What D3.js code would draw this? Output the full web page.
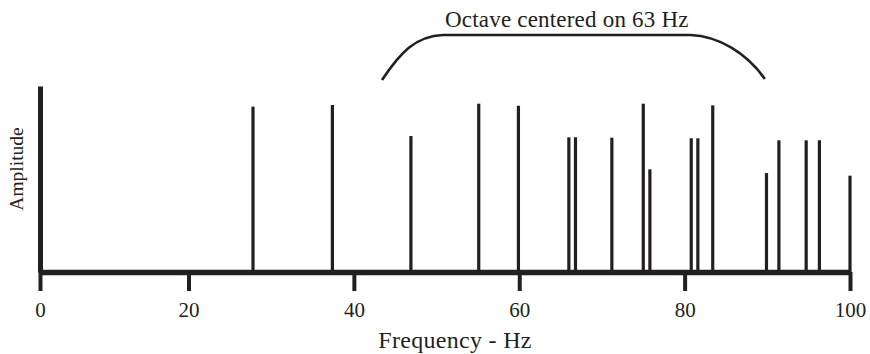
<!DOCTYPE html>
<html lang="en">
<head>
<meta charset="UTF-8"/>
<title>Octave centered on 63 Hz</title>
<script src="https://d3js.org/d3.v7.min.js"></script>
<style>
  body { margin: 0; background: #fff; }
  text { font-family: "Liberation Serif", "Times New Roman", serif; fill: #231f20; }
</style>
</head>
<body>
<script>
// spectral lines: frequency (Hz) and relative amplitude
var freqs = [27.8, 37.4, 46.9, 55.1, 59.9, 66.0, 66.8, 71.2, 75.0, 75.8,
             80.8, 81.6, 83.4, 89.9, 91.4, 94.7, 96.3, 100];
var amps  = [0.889, 0.898, 0.731, 0.905, 0.894, 0.724, 0.724, 0.722, 0.905, 0.552,
             0.719, 0.719, 0.896, 0.532, 0.708, 0.708, 0.708, 0.518];
var xTicks = [0, 20, 40, 60, 80, 100];
var octave = [43.4, 50.8, 80.7, 89.7];   // bracket ends and flat part, Hz

var w = 870, h = 354;
var ink = "#231f20";
var base = 272;

// the printed axis is a bit stretched between 0 and 20
var xScale = d3.scaleLinear()
    .domain([0, 20, 100])
    .range([40, 188.5, 850]);

var yScale = d3.scaleLinear()
    .domain([0, 1])
    .range([base, 86]);

var svg = d3.select("body").append("svg")
    .attr("width", w)
    .attr("height", h);

var data = freqs.map(function(f, i) { return {f: f, a: amps[i]}; });

// spikes
svg.selectAll("line.spike")
    .data(data)
    .enter()
    .append("line")
    .attr("class", "spike")
    .attr("x1", function(d) { return xScale(d.f); })
    .attr("x2", function(d) { return xScale(d.f); })
    .attr("y1", base)
    .attr("y2", function(d) { return yScale(d.a); })
    .attr("stroke", ink)
    .attr("stroke-width", 3.2);

// x axis
var xAxis = d3.axisBottom(xScale)
    .tickValues(xTicks)
    .tickSize(19)
    .tickSizeOuter(0)
    .tickPadding(11)
    .tickFormat(d3.format("d"));

var gx = svg.append("g")
    .attr("transform", "translate(0," + base + ")")
    .call(xAxis);
gx.select(".domain").attr("stroke", ink).attr("stroke-width", 5.5);
gx.selectAll(".tick line").attr("stroke", ink).attr("stroke-width", 4);
gx.selectAll(".tick text")
    .attr("font-family", "Liberation Serif, serif")
    .attr("font-size", 21)
    .attr("fill", ink);

// y axis (line only)
var yAxis = d3.axisLeft(yScale).tickValues([]).tickSizeOuter(0);
var gy = svg.append("g")
    .attr("transform", "translate(40,0)")
    .call(yAxis);
gy.select(".domain").attr("stroke", ink).attr("stroke-width", 5);

// axis titles
svg.append("text")
    .attr("x", 455)
    .attr("y", 348)
    .attr("text-anchor", "middle")
    .attr("font-size", 24)
    .attr("letter-spacing", 0.3)
    .text("Frequency - Hz");

svg.append("text")
    .attr("transform", "translate(23,169) rotate(-90)")
    .attr("text-anchor", "middle")
    .attr("font-size", 19.5)
    .text("Amplitude");

// octave bracket
var x0 = xScale(octave[0]), xa = xScale(octave[1]),
    xb = xScale(octave[2]), x1 = xScale(octave[3]);
var p = d3.path();
p.moveTo(x0, 80);
p.bezierCurveTo(x0 + 18, 53, xa - 28, 36, xa, 35);
p.lineTo(xb, 35);
p.bezierCurveTo(xb + 28, 36, x1 - 18, 53, x1, 79);
svg.append("path")
    .attr("d", p.toString())
    .attr("fill", "none")
    .attr("stroke", ink)
    .attr("stroke-width", 2.6);

svg.append("text")
    .attr("x", (xa + xb) / 2)
    .attr("y", 27)
    .attr("text-anchor", "middle")
    .attr("font-size", 23)
    .attr("letter-spacing", 0.2)
    .text("Octave centered on 63 Hz");
</script>
</body>
</html>
